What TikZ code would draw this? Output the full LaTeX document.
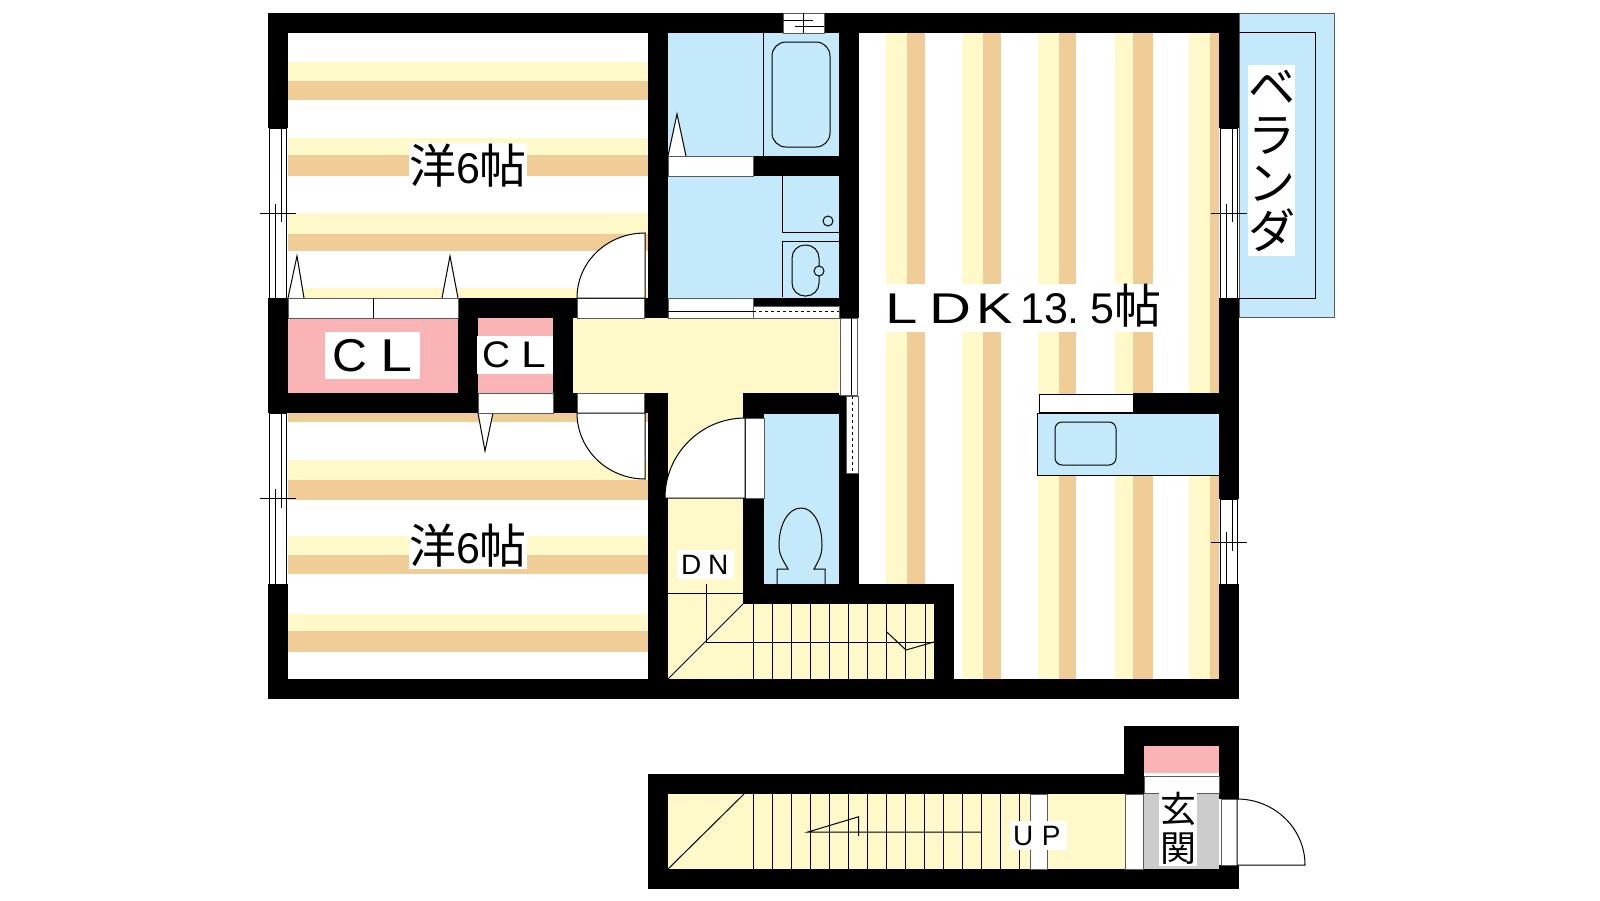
\documentclass[tikz,border=0pt]{standalone}
\usepackage{fontspec}
\newfontfamily\cjk{Noto Sans CJK JP}
\newfontfamily\latin{Liberation Sans}
\newcommand{\cell}[2]{\makebox[#1pt][l]{#2}}
\definecolor{floorcolor}{RGB}{255,248,200}
\definecolor{tancolor}{RGB}{240,204,150}
\definecolor{wetcolor}{RGB}{195,233,250}
\definecolor{closetcolor}{RGB}{250,180,182}
\definecolor{entrycolor}{RGB}{204,204,204}
\definecolor{edgecolor}{RGB}{90,90,90}
\tikzset{
  wall/.style={fill=black},
  opening/.style={fill=white,draw=edgecolor,line width=0.9pt},
  fixture/.style={draw=black,line width=1pt},
  leaf/.style={fill=white,draw=black,line width=1pt},
  roomlabel/.style={fill=white,inner sep=0pt,align=center,text=black},
}
\begin{document}
\begin{tikzpicture}[x=1pt,y=-1pt]
\useasboundingbox (0,0) rectangle (1600,900);

% Veranda
\filldraw[fill=wetcolor,draw=edgecolor,line width=0.9pt] (1239,13) rectangle (1334,317);
\draw[fixture] (1239,32) -- (1315,32) -- (1315,298) -- (1239,298);

% Floor stripes in the two bedrooms
\foreach \ya/\yb/\yc in {62/81/100,138/155/176,213/234/251,288/298/298,384/403/422,460/480/500,536/555/574,614/631/652} {
    \fill[floorcolor] (288,\ya) rectangle (648,\yb);
    \fill[tancolor] (288,\yb) rectangle (648,\yc);
}
% Floor stripes in the LDK
\foreach \xa/\xb/\xc in {886/907/925,962/983/1001,1038/1059/1076,1115/1133/1153,1189/1210/1219} {
    \fill[floorcolor] (\xa,33) rectangle (\xb,679);
    \fill[tancolor] (\xb,33) rectangle (\xc,679);
}

% Room fills
\fill[wetcolor] (668,33) rectangle (839,298);
\fill[wetcolor] (764,414) rectangle (839,584);
\fill[floorcolor] (573,318) rectangle (839,393);
\fill[floorcolor] (668,393) rectangle (743,679);
\fill[floorcolor] (668,604) rectangle (934,679);
\fill[floorcolor] (668,794) rectangle (1125,869);
\fill[closetcolor] (288,318) rectangle (458,393);
\fill[closetcolor] (478,318) rectangle (553,393);
\fill[closetcolor] (1144,746) rectangle (1219,773);
\fill[entrycolor] (1143,794) rectangle (1219,869);
\fill[white] (1144,773) rectangle (1219,794);

% Kitchen counter
\filldraw[fill=wetcolor,draw=black,line width=1pt] (1037,413) rectangle (1219,475);
\draw[fixture,rounded corners=7pt] (1055,422) rectangle (1116,465);

% Walls
\foreach \xa/\ya/\xb/\yb in {268/13/783/33,824/13/1239/33,268/679/1239/699,
    268/13/288/128,268/298/288/413,268/584/288/699,
    1219/13/1239/128,1219/298/1239/499,1219/584/1239/699,
    648/13/668/318,644/298/668/318,458/298/577/318,458/298/478/413,553/298/573/413,
    553/393/577/413,288/393/478/413,644/393/668/413,648/393/668/699,
    839/13/859/318,753/156/839/176,753/298/859/306,
    743/393/839/414,743/393/764/418,743/498/764/604,839/395/846/473,839/473/859/584,
    743/584/954/604,934/584/954/699,1133/393/1219/413,
    648/774/1144/794,648/774/668/889,648/869/1239/889,1124/726/1239/746,
    1124/726/1144/794,1219/726/1239/799,1219/865/1239/889} {
    \fill[wall] (\xa,\ya) rectangle (\xb,\yb);
}

% Folding door marks
\filldraw[leaf] (288,298) -- (297,256) -- (304,298);
\filldraw[leaf] (442,298) -- (450,256) -- (458,298);
\filldraw[leaf] (478,413) -- (485,451) -- (493,413);
\filldraw[leaf] (668,156) -- (677,114) -- (686,156);

% Door openings
\draw[opening] (288,298) rectangle (458,318);
\draw[fixture] (373,298) -- (373,318);
\draw[opening] (577,298) rectangle (644,318);
\draw[opening] (478,393) rectangle (553,413);
\draw[opening] (577,393) rectangle (644,413);
\draw[opening] (668,156) rectangle (753,176);
\draw[opening] (668,298) rectangle (753,318);
\draw[fixture] (668,311) -- (753,311);
\draw[opening] (753,306) rectangle (839,318);
\draw[fixture,dashed] (753,311) -- (839,311);
\draw[opening] (745,418) rectangle (764,498);
\draw[leaf] (1039,394) rectangle (1133,412);
\draw[opening] (1125,794) rectangle (1143,869);
\draw[opening] (1030,794) rectangle (1047,869);
\draw[opening] (1144,776) rectangle (1219,793);
\draw[opening] (1221,799) rectangle (1237,865);

% Swinging doors
\filldraw[leaf] (645,298) -- (577,298) .. controls (577,261.5) and (607.5,233) .. (645,233) -- cycle;
\filldraw[leaf] (645,413) -- (577,413) .. controls (577,449.5) and (607.5,479) .. (645,479) -- cycle;
\filldraw[leaf] (745,498) -- (665,498) .. controls (665,454) and (701,418) .. (745,418) -- cycle;
\filldraw[leaf] (1237,865) -- (1305,865) .. controls (1305,828.5) and (1274.5,799) .. (1237,799) -- cycle;

% Side windows
\foreach \xa/\ya/\yb in {268/128/298,268/413/584,1219/128/298,1219/499/584} {
    \filldraw[fill=white,draw=black,line width=0.9pt] (\xa+1,\ya) rectangle (\xa+18.5,\yb);
}
\draw[fixture] (275,204) -- (275,298);
\draw[fixture] (281,128) -- (281,222);
\draw[fixture] (260,213) -- (296,213);
\draw[fixture] (275,489) -- (275,584);
\draw[fixture] (281,413) -- (281,508);
\draw[fixture] (260,498) -- (296,498);
\draw[fixture] (1226.5,204) -- (1226.5,298);
\draw[fixture] (1232,128) -- (1232,222);
\draw[fixture] (1211,213) -- (1247,213);
\draw[fixture] (1226.5,532) -- (1226.5,584);
\draw[fixture] (1232,499) -- (1232,551);
\draw[fixture] (1211,542) -- (1247,542);

% Bath window
\filldraw[fill=white,draw=edgecolor,line width=0.9pt] (783,13) rectangle (824,33);
\draw[fixture] (803,13) -- (803,33);
\draw[fixture] (783,20) -- (813,20);
\draw[fixture] (795,26) -- (824,26);

% Windows beside the hall
\filldraw[fill=white,draw=edgecolor,line width=0.9pt] (840,318) rectangle (857,395);
\draw[fixture] (851,318) -- (851,395);
\filldraw[fill=white,draw=edgecolor,line width=0.9pt] (846,396) rectangle (858,473);
\draw[fixture,dashed] (852,396) -- (852,473);

% Bath and washroom fixtures
\draw[fixture] (763,33) -- (763,156);
\draw[fixture,rounded corners=14pt] (772,42) rectangle (830,147);
\draw[fixture] (782,176) -- (782,232) -- (839,232);
\draw[fixture] (828,221) circle (5);
\draw[fixture] (782,297) -- (782,241) -- (839,241);
\draw[fixture,rounded corners=13pt] (792,245) rectangle (819,296);
\filldraw[fill=wetcolor,draw=black,line width=1pt] (819,271) circle (5);

% Toilet
\draw[fixture] (777,584) -- (777,569) -- (788,569) .. controls (783,560) and (779,555) .. (779,545)
    .. controls (779,525) and (788,508) .. (801,508) .. controls (814,508) and (822,525) .. (822,545)
    .. controls (822,555) and (819,560) .. (814,569) -- (825,569) -- (825,584);

% Upper stairs
\draw[fixture] (668,593) -- (743,593);
\draw[fixture] (706,584) -- (706,642);
\draw[fixture] (743,604) -- (668,679);
\draw[fixture] (706,642) -- (934,642);
\foreach \x in {753.3,772.5,791.6,810.7,829.7,848.8,867.8,886.8,905.8,925} {
    \draw[fixture] (\x,604) -- (\x,679);
}
\draw[fixture] (886.8,632) -- (906,650) -- (934,642);

% Lower stairs
\draw[fixture] (668,869) -- (744,794);
\foreach \x in {753.3,772.5,791.6,810.7,829.7,848.8,867.8,886.8,905.8,924.8,943.8,962.8,981.8,1000.8,1019.8} {
    \draw[fixture] (\x,794) -- (\x,869);
}
\draw[fixture] (981.8,832) -- (808,832) -- (858.7,816.7) -- (858.7,836);

% Labels
\node[roomlabel,minimum width=116pt,minimum height=46pt] (bedroomA) at (468,166)
    {\fontsize{47}{47}\cjk 洋\fontsize{43}{43}\latin\cell{23.5}{6}\fontsize{47}{47}\cjk 帖};
\node[roomlabel,minimum width=116pt,minimum height=46pt] (bedroomB) at (468,546)
    {\fontsize{47}{47}\cjk 洋\fontsize{43}{43}\latin\cell{23.5}{6}\fontsize{47}{47}\cjk 帖};
\node[roomlabel,text height=31pt,text depth=1pt,minimum width=278pt,minimum height=48pt] (ldk) at (1022,308)
    {\fontsize{43}{43}\latin\cell{47}{\hspace{3pt}\scalebox{1.35}[1]{L}}\cell{47}{\scalebox{1.35}[1]{D}}\cell{44}{\scalebox{1.27}[1]{K}}\cell{23.5}{1}\cell{23.5}{3}\cell{23.5}{.}\cell{23.5}{5}\fontsize{47}{47}\cjk 帖};
\node[roomlabel,minimum width=95pt,minimum height=47pt] (closetA) at (372.5,355.5)
    {\fontsize{46}{46}\latin\cell{48}{\scalebox{1.05}[1]{C}}\cell{33}{\scalebox{1.25}[1]{L}}};
\node[roomlabel,minimum width=76pt,minimum height=38pt] (closetB) at (515,355)
    {\fontsize{37}{37}\latin\cell{39}{\scalebox{1.05}[1]{C}}\cell{27}{\scalebox{1.2}[1]{L}}};
\node[roomlabel,minimum width=57pt,minimum height=29pt] (down) at (705.5,564.5)
    {\fontsize{28}{28}\latin\cell{27}{D}\cell{22}{N}};
\node[roomlabel,minimum width=57pt,minimum height=29pt] (up) at (1038.5,835.5)
    {\fontsize{28}{28}\latin\cell{29}{U}\cell{22}{P}};
\node[roomlabel,font={\cjk\fontsize{36}{39}\selectfont},minimum width=38pt,minimum height=75pt] (entry) at (1178,828.5) {玄\\関};
\node[roomlabel,font={\cjk\fontsize{47}{48}\selectfont},minimum width=47pt,minimum height=191pt] (veranda) at (1271.5,160.5) {ベ\\ラ\\ン\\ダ};

\end{tikzpicture}
\end{document}
